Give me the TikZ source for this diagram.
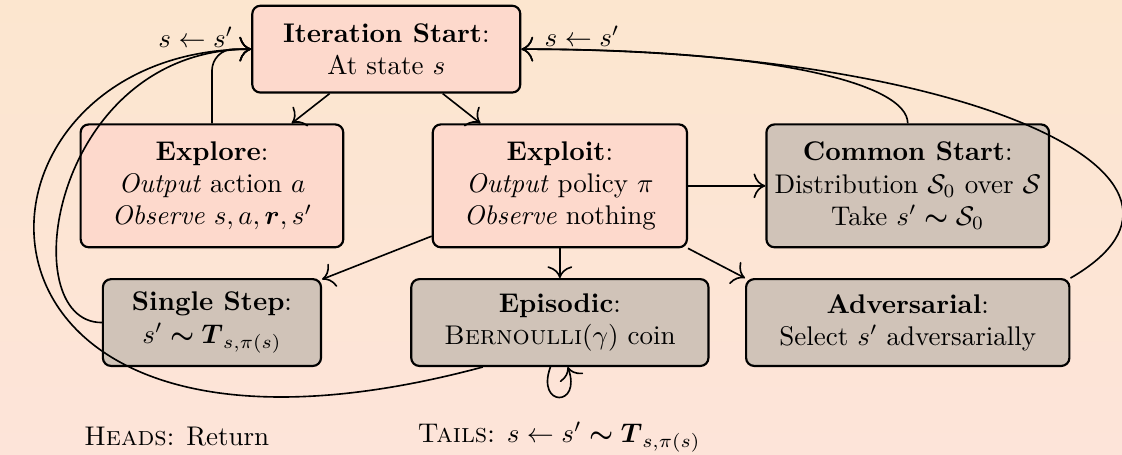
\documentclass[tikz,border=0pt]{standalone}
\usepackage{amsmath,amssymb}
\usetikzlibrary{arrows.meta}

\definecolor{bgtop}{RGB}{252,230,207}
\definecolor{bgbot}{RGB}{253,228,217}
\definecolor{agentfill}{RGB}{253,217,204}
\definecolor{envfill}{RGB}{208,195,184}

\tikzset{
  phase/.style={draw=black,thick,rounded corners=3pt,align=center,inner sep=3pt},
  agent/.style={phase,fill=agentfill},
  world/.style={phase,fill=envfill},
  flow/.style={-{To[scale=1.5]},semithick}
}

\begin{document}
\begin{tikzpicture}[scale=1]
\fill[top color=bgtop,bottom color=bgbot] (0,0) rectangle (14.61,-5.92);
\useasboundingbox (0,0) rectangle (14.61,-5.92);
\node[agent,minimum width=3.49cm,minimum height=1.13cm] (start) at (5.03,-0.64)
	{\textbf{Iteration Start}:\\ At state $s$};
\node[agent,minimum width=3.42cm,minimum height=1.6cm] (explore) at (2.76,-2.42)
	{\textbf{Explore}:\\ \emph{Output} action $a$\\ \emph{Observe} $s,a,\boldsymbol{r},s'$};
\node[agent,minimum width=3.31cm,minimum height=1.6cm] (exploit) at (7.29,-2.42)
	{\textbf{Exploit}:\\ \emph{Output} policy $\pi$\\ \emph{Observe} nothing};
\node[world,minimum width=3.65cm,minimum height=1.6cm] (common) at (11.82,-2.42)
	{\textbf{Common Start}:\\ Distribution $\mathcal{S}_0$ over $\mathcal{S}$\\ Take $s' \boldsymbol{\sim} \mathcal{S}_0$};
\node[world,minimum width=2.84cm,minimum height=1.13cm] (single) at (2.76,-4.20)
	{\textbf{Single Step}:\\ $s' \boldsymbol{\sim} \boldsymbol{T}_{s,\pi(s)}$};
\node[world,minimum width=3.87cm,minimum height=1.13cm] (episodic) at (7.29,-4.20)
	{\textbf{Episodic}:\\ \textsc{Bernoulli}$(\gamma)$ coin};
\node[world,minimum width=4.21cm,minimum height=1.13cm] (adversarial) at (11.82,-4.20)
	{\textbf{Adversarial}:\\ Select $s'$ adversarially};
\node (heads) at (2.30,-5.69) {\textsc{Heads}: Return};
\node (tails) at (7.28,-5.69) {\textsc{Tails}: $s \leftarrow s' \boldsymbol{\sim} \boldsymbol{T}_{s,\pi(s)}$};
\node (leftlbl) at (2.55,-0.49) {$s \leftarrow s'$};
\node (rightlbl) at (7.58,-0.47) {$s \leftarrow s'$};

\draw [flow] (start) -- (explore);
\draw [flow] (start) -- (exploit);
\draw [flow] (exploit) -- (common);
\draw [flow] (exploit) -- (single);
\draw [flow] (exploit) -- (episodic);
\draw [flow] (exploit.south east) -- (adversarial.north west);
\draw [flow,rounded corners=8pt] (explore) |- (start.west);
\draw [flow] (single.west) to[out=180,in=180,out distance=1.17cm,in distance=2.6cm] (start.west);
\draw [flow] (episodic.210) to[out=195,in=180,out distance=7.6cm,in distance=4.05cm] (start.west);
\draw [flow] (common.north) to[out=90,in=0,out distance=0.52cm,in distance=3.26cm] (start.east);
\draw [flow] (adversarial.north east) to[out=30,in=0,out distance=2.6cm,in distance=5.86cm] (start.east);
\draw [flow] (episodic.258) to[out=-110,in=-70,out distance=0.56cm,in distance=0.56cm] (episodic.280);
\end{tikzpicture}
\end{document}
